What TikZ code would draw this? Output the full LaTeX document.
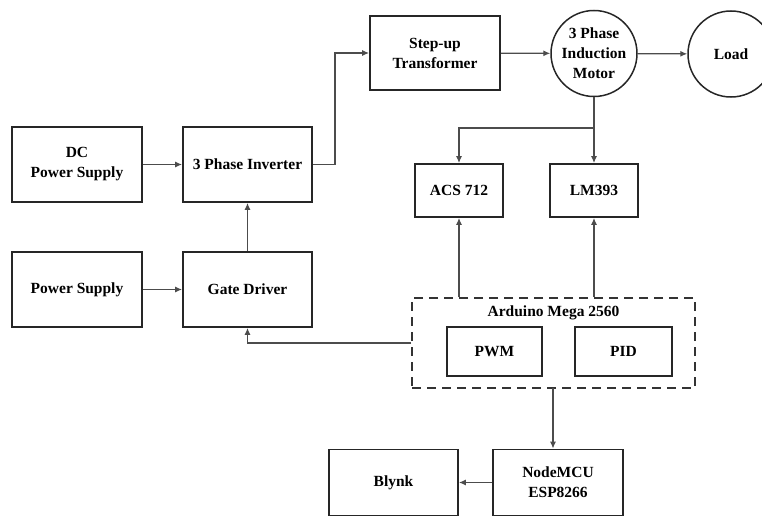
\documentclass[tikz,border=0pt]{standalone}
\usepackage{fontspec}
\setmainfont{Liberation Serif}
\usetikzlibrary{arrows.meta}
\begin{document}
\begin{tikzpicture}[x=1pt,y=-1pt,
  blk/.style={draw=black!85,line width=1.8pt,minimum width=#1,align=center,inner sep=0pt,
    font=\fontsize{15.5}{20}\selectfont\bfseries},
  circ/.style={draw=black!85,line width=1.5pt,circle,minimum size=86pt,align=center,inner sep=0pt,
    font=\fontsize{15.5}{20}\selectfont\bfseries},
  conn/.style={draw=black!70,line width=1.2pt,-{Latex[length=7pt,width=6pt]}},
  plain/.style={draw=black!70,line width=1.2pt}]
\useasboundingbox (0,0) rectangle (762,519);
\node[blk=130pt,minimum height=75pt] (dc) at (77,164.5) {DC\\Power Supply};
\node[blk=129pt,minimum height=75pt] (inv) at (247.5,164.5) {3 Phase Inverter};
\node[blk=130pt,minimum height=75pt] (ps) at (77,289.5) {Power Supply};
\node[blk=129pt,minimum height=75pt] (gd) at (247.5,289.5) {Gate Driver};
\node[blk=130pt,minimum height=74pt] (tr) at (435,53) {Step-up\\Transformer};
\node[circ] (mot) at (594,53.5) {3 Phase\\Induction\\Motor};
\node[circ] (load) at (731,54) {Load};
\node[blk=88pt,minimum height=53pt] (acs) at (459,190.5) {ACS 712};
\node[blk=88pt,minimum height=53pt] (lm) at (594,190.5) {LM393};
\node[draw=black!80,line width=1.8pt,dash pattern=on 9pt off 6pt,minimum width=283pt,minimum height=90pt] (ard) at (553.5,343) {};
\node[font=\fontsize{15.5}{20}\selectfont\bfseries] (ardt) at (553.5,313) {Arduino Mega 2560};
\node[blk=95pt,minimum height=49pt] (pwm) at (494.5,351.5) {PWM};
\node[blk=97pt,minimum height=49pt] (pid) at (623.5,351.5) {PID};
\node[blk=130pt,minimum height=66pt] (nmcu) at (558,482.5) {NodeMCU\\ESP8266};
\node[blk=129pt,minimum height=66pt] (bly) at (393.5,482.5) {Blynk};
\coordinate (a1) at (335,164.5);
\coordinate (j) at (594,128);
\coordinate (ab) at (553,388);
\draw[conn] (dc) -- (inv);
\draw[conn] (ps) -- (gd);
\draw[conn] (gd) -- (inv);
\draw[conn] (inv.east) -- (a1) |- (tr.west);
\draw[conn] (tr) -- (mot);
\draw[conn] (mot) -- (load);
\draw[plain] (mot.south) -- (j);
\draw[conn] (j) -| (acs.north);
\draw[conn] (j) -- (lm.north);
\draw[conn] (acs.south |- ard.north) -- (acs.south);
\draw[conn] (lm.south |- ard.north) -- (lm.south);
\draw[conn] (ard.west) -| (gd.south);
\draw[conn] (ab) -- (ab |- nmcu.north);
\draw[conn] (nmcu.west) -- (bly.east);
\end{tikzpicture}
\end{document}
